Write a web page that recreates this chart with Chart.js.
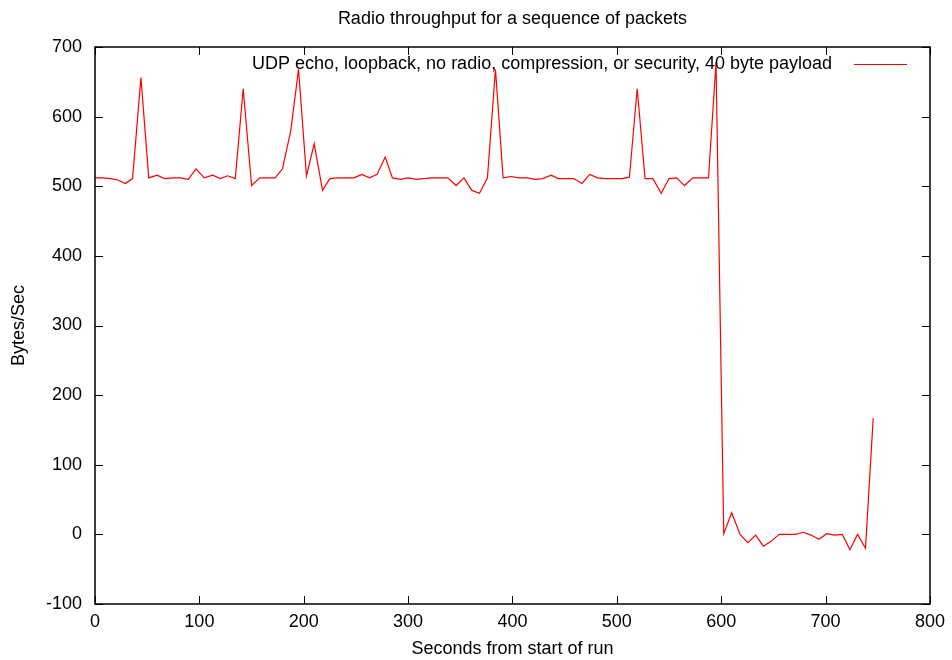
<!DOCTYPE html>
<html>
<head>
<meta charset="utf-8">
<script src="https://cdn.jsdelivr.net/npm/chart.js@4.4.1/dist/chart.umd.min.js"></script>
<style>
  html, body { margin: 0; padding: 0; background: #fff; }
  #wrap { width: 952px; height: 660px; }
</style>
</head>
<body>
<div id="wrap"><canvas id="chart" width="952" height="660"></canvas></div>
<script>
// values
const seconds = [
  0, 7.5, 15, 22, 29, 36, 44, 51.5, 59.5, 66.5, 74, 82, 89.4, 96.8, 104.7, 112.7, 120, 127, 134.4, 142,
  150, 158, 165, 172.6, 179.6, 187.6, 195, 202.6, 210, 218, 225, 233, 240, 248, 255.5, 263, 270.3, 278, 285, 293,
  300, 308, 315, 322.7, 330.3, 338, 346, 353.5, 361, 368.4, 376, 383.7, 391, 398.6, 406, 414, 422, 429, 437, 444,
  451.6, 458.6, 466.6, 474, 481.6, 489.5, 497, 505, 512, 519.5, 527, 534.5, 542.5, 550, 557.4, 564.8, 572.7, 580.4, 587.8, 595,
  602.4, 610, 618, 625.4, 633, 640.4, 647.7, 655.6, 663.6, 671, 678.6, 686, 693.6, 701, 708.3, 716, 723.3, 730.6, 738.2, 745.6
];
const bytesPerSec = [
  512, 512, 511, 509, 504, 511, 656, 512, 516, 511, 512, 512, 510, 525, 512, 516, 511, 515, 511, 640,
  501, 512, 512, 512, 525, 580, 668, 515, 561, 494, 511, 512, 512, 512, 517, 512, 517, 542, 512, 510,
  512, 510, 511, 512, 512, 512, 501, 512, 494, 490, 512, 668, 512, 514, 512, 512, 510, 511, 516, 511,
  511, 511, 504, 517, 512, 511, 511, 511, 513, 640, 511, 511, 490, 511, 512, 501, 512, 512, 512, 678,
  1, 31, 0, -12, -1, -17, -10, 0, 0, 0, 3, -1, -7, 1, -1, 0, -22, 0, -20, 167
];
const xTicks = [0, 100, 200, 300, 400, 500, 600, 700, 800];
const yTicks = [-100, 0, 100, 200, 300, 400, 500, 600, 700];

const chartTitle = 'Radio throughput for a sequence of packets';
const seriesLabel = 'UDP echo, loopback, no radio, compression, or security, 40 byte payload';
const xTitle = 'Seconds from start of run';
const yTitle = 'Bytes/Sec';

const FONT = '"Liberation Sans", Arial, Helvetica, sans-serif';

// gnuplot look: closed border, ticks pointing inwards on all four sides, key inside top right
const gnuplotFrame = {
  id: 'gnuplotFrame',
  afterDatasetsDraw(chart) {
    const { ctx, chartArea: a, scales } = chart;
    const tick = 8;
    ctx.save();
    ctx.strokeStyle = '#000';
    ctx.lineWidth = 1.5;
    ctx.strokeRect(a.left, a.top, a.right - a.left, a.bottom - a.top);

    ctx.lineWidth = 1;
    ctx.beginPath();
    scales.x.ticks.forEach(t => {
      const px = Math.round(scales.x.getPixelForValue(t.value)) + 0.5;
      ctx.moveTo(px, a.bottom); ctx.lineTo(px, a.bottom - tick);
      ctx.moveTo(px, a.top); ctx.lineTo(px, a.top + tick);
    });
    scales.y.ticks.forEach(t => {
      const py = Math.round(scales.y.getPixelForValue(t.value)) + 0.5;
      ctx.moveTo(a.left, py); ctx.lineTo(a.left + tick, py);
      ctx.moveTo(a.right, py); ctx.lineTo(a.right - tick, py);
    });
    ctx.stroke();

    // key
    const ds = chart.data.datasets[0];
    const ky = a.top + 17.5;
    const lineEnd = a.right - 23;
    const lineStart = lineEnd - 53;
    ctx.fillStyle = '#000';
    ctx.font = '18px ' + FONT;
    ctx.textAlign = 'right';
    ctx.textBaseline = 'middle';
    ctx.fillText(ds.label, lineStart - 22, ky);
    ctx.strokeStyle = ds.borderColor;
    ctx.lineWidth = 1.2;
    ctx.beginPath();
    ctx.moveTo(lineStart, ky);
    ctx.lineTo(lineEnd, ky);
    ctx.stroke();
    ctx.restore();
  }
};

const ctx = document.getElementById('chart').getContext('2d');

new Chart(ctx, {
  type: 'line',
  data: {
    datasets: [{
      label: seriesLabel,
      data: seconds.map((s, i) => ({ x: s, y: bytesPerSec[i] })),
      borderColor: '#ff0000',
      borderWidth: 1.2,
      pointRadius: 0,
      tension: 0,
      fill: false
    }]
  },
  options: {
    responsive: false,
    animation: false,
    devicePixelRatio: 1,
    layout: { padding: { left: 0, right: 21, top: 0, bottom: 0 } },
    plugins: {
      legend: { display: false },
      tooltip: { enabled: false },
      title: {
        display: true,
        fullSize: false,
        text: chartTitle,
        color: '#000',
        font: { family: FONT, size: 18, weight: 'normal' },
        padding: { top: 8, bottom: 17.4 }
      }
    },
    scales: {
      x: {
        type: 'linear',
        min: 0,
        max: 800,
        afterBuildTicks(scale) {
          scale.ticks = xTicks.map(v => ({ value: v }));
        },
        afterFit(scale) {
          scale.height = 56;
        },
        ticks: {
          color: '#000',
          font: { family: FONT, size: 18 },
          padding: 7,
          maxRotation: 0,
          autoSkip: false
        },
        grid: { display: false, drawTicks: false },
        border: { display: false },
        title: {
          display: true,
          text: xTitle,
          color: '#000',
          font: { family: FONT, size: 18 },
          padding: { top: 0, bottom: 0 }
        }
      },
      y: {
        type: 'linear',
        min: -100,
        max: 700,
        afterBuildTicks(scale) {
          scale.ticks = yTicks.map(v => ({ value: v }));
        },
        afterFit(scale) {
          scale.width = 95;
        },
        ticks: {
          color: '#000',
          font: { family: FONT, size: 18 },
          padding: 13,
          autoSkip: false
        },
        grid: { display: false, drawTicks: false },
        border: { display: false },
        title: {
          display: true,
          text: yTitle,
          color: '#000',
          font: { family: FONT, size: 18 },
          padding: { top: 8, bottom: 0 }
        }
      }
    }
  },
  plugins: [gnuplotFrame]
});
</script>
</body>
</html>
